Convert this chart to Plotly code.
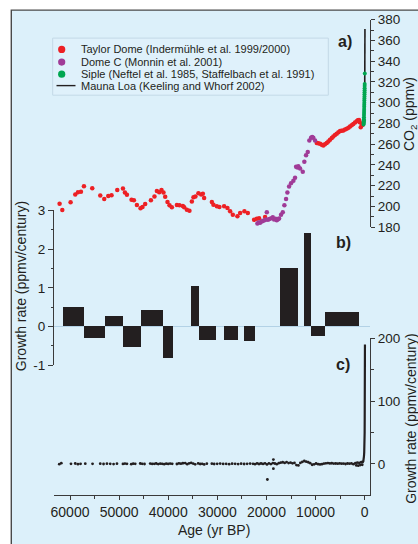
import plotly.graph_objects as go

# ---------------- data ----------------
taylor_age = [62120, 61570, 59880, 58930, 58380, 57770, 57160, 55470, 53840, 53030,
              52210, 51540, 50380, 49220, 48820, 48410, 47470, 46990, 46380, 45640,
              45240, 44690, 43530, 42800, 42310, 41840, 41370, 40970, 40620, 40150,
              39740, 39260, 38240, 37710, 37020, 36750, 36210, 35680, 35190, 34860,
              34460, 33850, 33300, 32950, 32690, 31120, 30800, 30100, 29580, 28620,
              27950, 27400, 26850, 25910, 25360, 24490, 23800, 22520, 21970, 21500,
              20280,
              9760, 9450, 9090, 8750, 8420, 8100, 7730, 7400, 7060, 6700,
              6390, 6050, 5700, 5350, 5020, 4700, 4350, 4000, 3660, 3300,
              2990, 2650, 2320, 1970, 1630, 1400, 1160, 1000, 810, 610, 450]
taylor_co2 = [202.5, 196.5, 203.9, 211.5, 213.7, 214.0, 219.4, 217.5, 210.5, 207.0,
              209.9, 210.8, 215.9, 217.2, 213.4, 211.1, 206.3, 206.0, 201.3, 198.1,
              199.4, 202.2, 205.8, 209.6, 214.9, 213.7, 215.9, 213.4, 209.2, 204.1,
              201.0, 199.1, 201.3, 201.0, 200.3, 199.1, 196.8, 195.8, 204.8, 208.9,
              209.6, 212.7, 211.5, 212.1, 208.0, 204.1, 201.6, 200.0, 199.4, 200.0,
              198.4, 195.3, 192.0, 190.5, 193.6, 195.3, 193.6, 187.0, 188.0, 188.6,
              189.8,
              261.1, 260.9, 260.4, 259.5, 258.8, 259.8, 261.1, 262.5, 264.3, 266.0,
              267.4, 268.8, 270.0, 271.4, 272.6, 272.9, 273.1, 274.0, 274.8, 275.9,
              277.0, 278.3, 279.5, 280.8, 282.1, 283.0, 283.3, 281.0, 276.4, 279.5, 278.5]

domec_age = [21850, 21600, 21300, 21000, 20750, 20400, 20080, 19930, 19700, 19400,
             19000, 18710, 18450, 18150, 17900, 17650, 17430, 17030, 16680, 16350,
             16010, 15740, 15400, 15000, 14520, 14180, 13970, 13700, 13510, 13160,
             12610, 12290, 11940, 11590, 11270, 10920, 10690, 10460, 10110]
domec_co2 = [183.4, 184.5, 184.1, 185.5, 186.0, 186.5, 187.3, 194.3, 187.0, 187.9,
             188.5, 189.5, 187.3, 188.0, 186.7, 187.5, 188.2, 192.0, 194.3, 201.0,
             207.0, 213.4, 219.1, 222.3, 224.8, 227.7, 238.2, 237.5, 238.8, 236.6,
             233.4, 243.0, 249.3, 252.5, 263.6, 266.2, 266.8, 266.1, 263.6]

siple_age = [230, 215, 200, 185, 170, 160, 150, 140, 130, 120,
             110, 100, 90, 80, 70, 60, 50, 40, 30, 20, 15, 10, 5, -20]
siple_co2 = [279, 280, 281, 282, 283, 284, 286, 288, 290, 292,
             294, 296, 298, 300, 302, 304, 306, 308, 310, 312, 314, 316, 318, 328]

maunaloa_age = [-8, -15, -20, -25, -30, -35, -40, -45, -50, -51]
maunaloa_co2 = [315.0, 320.0, 325.7, 331.0, 338.7, 346.0, 354.0, 361.0, 369.5, 371.0]

# growth-rate bars (panel b): interval start / end age and rate
bar_start = [61500, 57150, 52800, 49150, 45500, 41000, 35400, 33700, 28600, 24500, 17200, 12300, 10850, 8100]
bar_end   = [57150, 52800, 49150, 45500, 41000, 38950, 33700, 30250, 25800, 22250, 13550, 10850, 8100, 1150]
bar_rate  = [0.51, -0.30, 0.26, -0.53, 0.42, -0.81, 1.05, -0.36, -0.35, -0.38, 1.50, 2.40, -0.25, 0.36]

# growth-rate points (panel c)
rate_age = [62180, 61770, 59800, 58930, 58380, 57850, 56890, 55410, 53840, 53170,
            52480, 51810, 51130, 50440, 49220, 48820, 48410, 47530, 47130, 46720,
            45700, 45300, 44830, 43670, 43260, 42850, 42450, 42040, 41630, 41230,
            40820, 40410, 40010, 39600, 39190, 38240, 37830, 37420, 37010, 36550,
            36140, 35740, 35330, 34920, 34520, 33910, 33500, 33090, 32680, 32140,
            31120, 30650, 30040, 29430, 28820, 28210, 27600, 26990, 26380, 25770,
            25160, 24550, 23940, 23330, 22740, 22330, 21920, 21520, 21110, 20700,
            20300, 19900, 19811, 19500, 19100, 18700, 18590, 18590, 18300, 17900,
            17500, 17100, 16700, 16300, 15900, 15500, 15100, 14700, 14300, 13900,
            13500, 13100, 12700, 12300, 11900, 11500, 11100, 10700, 10300, 9900,
            9500, 9100, 8700, 8300, 7900, 7500, 7100, 6700, 6300, 5900,
            5500, 5100, 4700, 4300, 3900, 3500, 3100, 2700, 2300, 1900,
            1700, 1500, 1300, 1100, 900, 700, 500, 400]
rate_val = [-0.5, 1.0, 0.0, 0.5, -0.5, 0.0, 0.3, 0.0, 0.2, -0.3,
            0.3, 0.0, -0.4, 0.2, -0.2, 0.4, 0.0, -0.5, 0.3, 0.0,
            0.5, 0.0, -0.3, 0.4, -0.2, 0.0, 0.5, -0.4, 0.2, 0.0,
            -0.6, 0.3, -0.2, 0.4, 0.0, -0.3, 0.6, 0.2, 0.9, 1.2,
            -0.5, 0.8, 1.5, 0.4, -0.8, 0.6, -0.3, 0.0, -0.9, 0.3,
            0.2, -0.3, 0.0, 0.4, -0.2, 0.0, -0.5, 0.3, 0.0, -0.4,
            0.2, -0.3, 0.0, 0.4, 0.0, -0.5, 0.6, -0.3, 0.5, -0.2,
            0.8, -1.0, -25.0, 0.6, -0.4, 1.2, 6.8, -7.7, 0.5, -0.6,
            1.0, 1.8, 2.5, 1.5, 2.8, 1.2, 2.0, 0.8, 1.5, -2.0,
            -2.5, 1.5, 3.0, 4.5, 3.5, 2.5, 1.0, -1.5, -0.8, 0.5,
            -0.5, -1.0, -0.6, 0.4, 0.8, 1.2, 0.6, 0.9, 0.4, 0.5,
            0.3, 0.6, 0.2, 0.4, -0.3, 0.5, 0.2, 0.6, -0.5, 1.0,
            -2.5, 2.0, -3.0, 1.5, -2.0, 2.5, -1.5, 3.0]
rise_age = [300, 250, 200, 150, 100, 60, 30, 10, 0, -10, -20, -30, -40, -50]
rise_val = [3, 5, 8, 12, 18, 25, 35, 50, 70, 95, 120, 150, 175, 190]

legend_labels = ["Taylor Dome (Indermühle et al. 1999/2000)",
                 "Dome C (Monnin et al. 2001)",
                 "Siple (Neftel et al. 1985, Staffelbach et al. 1991)",
                 "Mauna Loa (Keeling and Whorf 2002)"]

# ---------------- styles / layout helpers ----------------
W, H = 418, 544
ML, MR, MT, MB = 54, 48, 14, 49
PW, PH = W - ML - MR, H - MT - MB
FONT = "Liberation Sans, Arial, sans-serif"
RED, PURPLE, GREEN, BLACK = "#ed2024", "#a03b97", "#00a650", "#231f20"
BG = "#dcf0fa"
AX = "#3a3a3a"


def fx(px):
    return (px - ML) / PW


def fy(py):
    return (H - MB - py) / PH


bar_center = [(s + e) / 2 for s, e in zip(bar_start, bar_end)]
bar_width = [s - e for s, e in zip(bar_start, bar_end)]

fig = go.Figure()
fig.add_trace(go.Scatter(x=taylor_age, y=taylor_co2, mode="markers",
                         marker=dict(color=RED, size=4.5), xaxis="x", yaxis="y"))
fig.add_trace(go.Scatter(x=domec_age, y=domec_co2, mode="markers",
                         marker=dict(color=PURPLE, size=4.5), xaxis="x", yaxis="y"))
fig.add_trace(go.Scatter(x=maunaloa_age, y=maunaloa_co2, mode="lines",
                         line=dict(color=BLACK, width=1.6), xaxis="x", yaxis="y"))
fig.add_trace(go.Scatter(x=siple_age, y=siple_co2, mode="markers",
                         marker=dict(color=GREEN, size=4), xaxis="x", yaxis="y"))
fig.add_trace(go.Bar(x=bar_center, y=bar_rate, width=bar_width,
                     marker=dict(color=BLACK, line=dict(width=0)), xaxis="x", yaxis="y2"))
fig.add_trace(go.Scatter(x=rate_age, y=rate_val, mode="markers",
                         marker=dict(color=BLACK, size=2.8), xaxis="x", yaxis="y3"))
fig.add_trace(go.Scatter(x=rise_age, y=rise_val, mode="lines",
                         line=dict(color=BLACK, width=2.2), xaxis="x", yaxis="y3"))

tickfont = dict(family=FONT, size=14, color=BLACK)

# x range: 60000 at px 70, 0 at px 364.7
scale = 60000 / (364.7 - 70)
x_left = 60000 + (70 - ML) * scale
x_right = -(ML + PW - 364.7) * scale

c_bottom_frac, c_top_frac = 0.0, fy(336.7)
c_zero_frac = fy(463.5)
c_min = -c_zero_frac / (c_top_frac - c_zero_frac) * 200

fig.update_layout(
    width=W, height=H,
    margin=dict(l=ML, r=MR, t=MT, b=MB, pad=0),
    paper_bgcolor="white", plot_bgcolor="rgba(0,0,0,0)",
    showlegend=False, bargap=0,
    font=dict(family=FONT, color=BLACK),
    xaxis=dict(domain=[0, 1], range=[x_left, x_right], anchor="y3",
               tickvals=[60000, 50000, 40000, 30000, 20000, 10000, 0], tickformat="d",
               ticks="outside", ticklen=4, tickwidth=1, tickcolor=AX,
               minor=dict(dtick=5000, tick0=0, ticks="outside", ticklen=3, tickcolor=AX),
               showline=True, linecolor=AX, linewidth=1, showgrid=False, zeroline=False,
               tickfont=tickfont),
    yaxis=dict(domain=[fy(224.3), fy(14.7)], range=[180, 380], side="right", anchor="x",
               tickvals=list(range(180, 381, 20)), ticks="outside", ticklen=4, tickcolor=AX,
               minor=dict(dtick=10, tick0=0, ticks="outside", ticklen=2.5, tickcolor=AX),
               showline=True, linecolor=AX, linewidth=1, showgrid=False, zeroline=False,
               tickfont=dict(family=FONT, size=13.5, color=BLACK)),
    yaxis2=dict(domain=[fy(364), fy(207.3)], range=[-1, 3], side="left", anchor="x",
                tickvals=[-1, 0, 1, 2, 3], ticktext=["-1", "0", "1", "2", "3"],
                ticks="outside", ticklen=5, tickcolor=AX,
                minor=dict(dtick=0.5, tick0=0, ticks="outside", ticklen=2.5, tickcolor=AX),
                showline=True, linecolor=AX, linewidth=1, showgrid=False,
                zeroline=True, zerolinecolor="#b3d2e6", zerolinewidth=1,
                tickfont=dict(family=FONT, size=13.5, color=BLACK)),
    yaxis3=dict(domain=[c_bottom_frac, c_top_frac], range=[c_min, 200], side="right", anchor="x",
                tickvals=[0, 100, 200], ticks="outside", ticklen=4, tickcolor=AX,
                minor=dict(dtick=50, tick0=0, ticks="outside", ticklen=2.5, tickcolor=AX),
                showline=True, linecolor=AX, linewidth=1, showgrid=False, zeroline=False,
                tickfont=dict(family=FONT, size=13.5, color=BLACK)),
)

shapes = [
    dict(type="rect", xref="paper", yref="paper", layer="below",
         x0=fx(11.3), x1=fx(440), y0=fy(570), y1=fy(5),
         fillcolor=BG, line=dict(color="#4a4a4a", width=1.4)),
    dict(type="rect", xref="paper", yref="paper", layer="below",
         x0=fx(52.7), x1=fx(328.3), y0=fy(91), y1=fy(33.3),
         fillcolor="#dff1fb", line=dict(color="#c3d9e7", width=1)),
]
legend_rows = [44.2, 57.0, 69.3, 81.3]
for col, yy in zip([RED, PURPLE, GREEN], legend_rows[:3]):
    shapes.append(dict(type="circle", xref="paper", yref="paper",
                       xsizemode="pixel", ysizemode="pixel",
                       xanchor=fx(61.7), yanchor=fy(yy + 0.5),
                       x0=-3.6, x1=3.6, y0=-3.6, y1=3.6,
                       fillcolor=col, line=dict(width=0)))
shapes.append(dict(type="line", xref="paper", yref="paper",
                   x0=fx(56.5), x1=fx(75.5), y0=fy(legend_rows[3]), y1=fy(legend_rows[3]),
                   line=dict(color=BLACK, width=1.4)))
fig.update_layout(shapes=shapes)

ann = []
for lab, yy in zip(legend_labels, legend_rows):
    ann.append(dict(text=lab, x=fx(78.5), y=fy(yy), xref="paper", yref="paper",
                    xanchor="left", yanchor="middle", showarrow=False,
                    font=dict(family=FONT, size=11, color=BLACK)))
for lab, px, py in [("a)", 345, 37), ("b)", 343, 240), ("c)", 343, 363)]:
    ann.append(dict(text="<b>" + lab + "</b>", x=fx(px), y=fy(py), xref="paper", yref="paper",
                    xanchor="center", yanchor="middle", showarrow=False,
                    font=dict(family=FONT, size=16, color=BLACK)))
titles = [("CO<sub>2</sub> (ppmv)", 410, 110, -90),
          ("Growth rate (ppmv/century)", 21, 284, -90),
          ("Growth rate (ppmv/century)", 411, 418, -90),
          ("Age (yr BP)", 214, 530, 0)]
for lab, px, py, ang in titles:
    ann.append(dict(text=lab, x=fx(px), y=fy(py), xref="paper", yref="paper",
                    xanchor="center", yanchor="middle", showarrow=False, textangle=ang,
                    font=dict(family=FONT, size=14, color=BLACK)))
fig.update_layout(annotations=ann)

fig.write_html("out.html", config={"displayModeBar": False},
               post_script="document.body.style.margin='0';document.body.style.overflow='hidden';")
